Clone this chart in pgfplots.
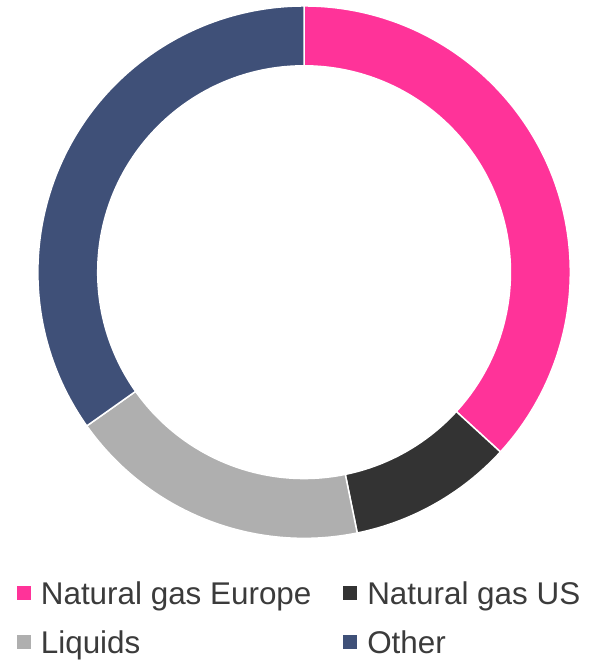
\documentclass[border=0pt]{standalone}
\usepackage{fontspec}
\setmainfont{Liberation Sans}
\usepackage{pgfplots}
\pgfplotsset{compat=1.18}
\usepackage{pgfplotstable}
\definecolor{cEurope}{HTML}{FF3399}
\definecolor{cUS}{HTML}{333333}
\definecolor{cLiquids}{HTML}{AFAFAF}
\definecolor{cOther}{HTML}{3F5078}
\definecolor{txt}{HTML}{3B3B3B}

% shares in percent, clockwise from 12 o'clock
\pgfplotstableread[col sep=comma]{
label,value
Natural gas Europe,36.8
Natural gas US,10.0
Liquids,18.4
Other,34.8
}\shares

% annular sector: start angle, end angle, colour
\newcommand\ring[3]{%
  \fill[#3, draw=white, line width=1.5bp]
    ([shift={(#1:267bp)}]ctr) arc[start angle=#1, end angle=#2, radius=267bp]
    -- ([shift={(#2:207bp)}]ctr) arc[start angle=#2, end angle=#1, radius=207bp]
    -- cycle;}

\begin{document}
\begin{tikzpicture}
\pgfplotstablegetelem{0}{value}\of\shares \let\vA\pgfplotsretval
\pgfplotstablegetelem{1}{value}\of\shares \let\vB\pgfplotsretval
\pgfplotstablegetelem{2}{value}\of\shares \let\vC\pgfplotsretval
\pgfplotstablegetelem{3}{value}\of\shares \let\vD\pgfplotsretval
\pgfmathsetmacro\aA{90}
\pgfmathsetmacro\aB{\aA-3.6*\vA}
\pgfmathsetmacro\aC{\aB-3.6*\vB}
\pgfmathsetmacro\aD{\aC-3.6*\vC}
\pgfmathsetmacro\aE{\aD-3.6*\vD}
\begin{axis}[
  scale only axis, width=593bp, height=660bp,
  xmin=0, xmax=593, ymin=0, ymax=660,
  hide axis, clip=false,
  legend columns=2,
  legend image code/.code={\fill[#1] (0bp,4.5bp) rectangle (14bp,18.5bp);},
  legend style={at={(axis cs:17,78)}, anchor=north west,
    draw=none, fill=none, inner sep=0pt, outer sep=0pt,
    font=\fontsize{31.5bp}{38bp}\selectfont, text=txt,
    cells={anchor=base west},
    nodes={inner sep=0pt, text height=24bp, text depth=7bp},
    /tikz/column sep=10bp, /tikz/row sep=18bp,
    /tikz/every even column/.append style={column sep=32bp}}]
\path (axis cs:0,0) rectangle (axis cs:593,660);
\coordinate (ctr) at (axis cs:305,387);
\ring{\aA}{\aB}{cEurope}
\ring{\aB}{\aC}{cUS}
\ring{\aC}{\aD}{cLiquids}
\ring{\aD}{\aE}{cOther}
\addlegendimage{fill=cEurope, draw=none}
\addlegendentry{Natural gas Europe}
\addlegendimage{fill=cUS, draw=none}
\addlegendentry{Natural gas US}
\addlegendimage{fill=cLiquids, draw=none}
\addlegendentry{Liquids}
\addlegendimage{fill=cOther, draw=none}
\addlegendentry{Other}
\end{axis}
\end{tikzpicture}
\end{document}
